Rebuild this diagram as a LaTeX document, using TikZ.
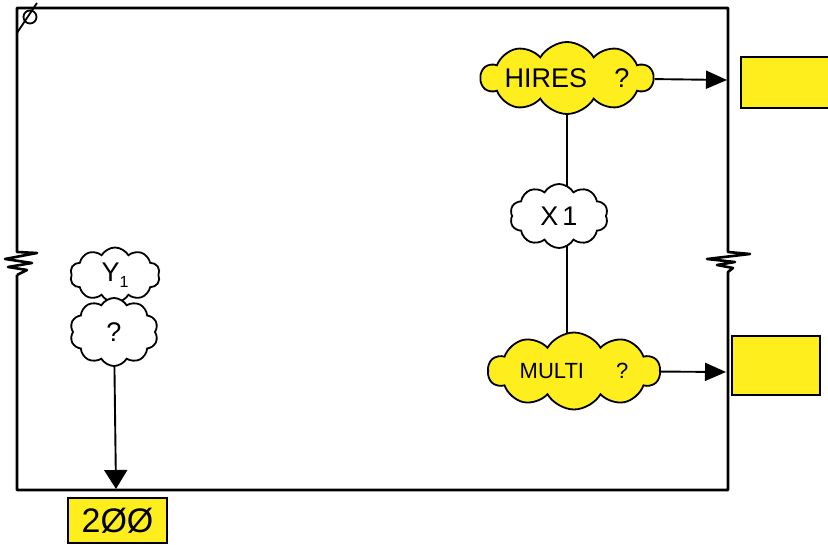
\documentclass[tikz,border=0pt]{standalone}
\usepackage{fontspec}
\setmainfont{Liberation Sans}
\usetikzlibrary{shapes.symbols,arrows.meta,backgrounds}
\definecolor{hy}{RGB}{255,238,30}
\begin{document}
\begin{tikzpicture}[x=1pt,y=-1pt,
  frameline/.style={line width=2.6pt, line join=round},
  conn/.style={line width=1.9pt},
  arr/.style={conn, -{Triangle[length=21pt,width=18pt]}},
  arrdown/.style={conn, -{Triangle[length=19pt,width=23pt]}},
  cloudnode/.style={cloud, cloud puffs=10, cloud puff arc=120, cloud ignores aspect, draw=black, line width=1.8pt, inner sep=0pt, fill=white},
  yelcloud/.style={cloudnode, fill=hy},
  ybox/.style={draw=black, line width=1.8pt, fill=hy, inner sep=0pt},
  big/.style={font=\fontsize{27}{29}\selectfont},
  mid/.style={font=\fontsize{22}{24}\selectfont}
]
\useasboundingbox (0,0) rectangle (828,545);
\clip (0,0) rectangle (828,545);

% frame with zigzags
\draw[frameline] (17,275) -- (17,490) -- (728,490) -- (728,272)
  -- (733,268) -- (717,265) -- (735,262) -- (707,259) -- (750,254) -- (728,252)
  -- (728,8) -- (17,8) -- (17,252)
  -- (37,253) -- (5,259) -- (32,263) -- (8,267) -- (27,270) -- (17,275);
% empty-set mark in the corner
\draw[line width=1.8pt] (30,17) circle (6.5);
\draw[line width=1.8pt] (17,33) -- (37,3);

% right column clouds
\node[yelcloud, big, minimum width=170pt, minimum height=72pt] (hires) at (567,78) {HIRES\hspace{27pt}?};
\node[cloudnode, big, minimum width=98pt, minimum height=64pt] (x1) at (559,216) {X\kern4pt 1};
\node[yelcloud, mid, minimum width=172pt, minimum height=77pt] (multi) at (574,371) {MULTI\hspace{32pt}?};

% right boxes
\node[ybox, minimum width=95pt, minimum height=51pt, anchor=north west] (hbox) at (740,56) {};
\node[ybox, minimum width=88pt, minimum height=59pt, anchor=north west] (mbox) at (731,335) {};

% left clouds
\node[cloudnode, big, minimum width=90pt, minimum height=55pt] (y1) at (115,275) {Y\raisebox{-6pt}{\fontsize{16}{16}\selectfont 1}};
\node[cloudnode, big, minimum width=88pt, minimum height=68pt] (q) at (114,332) {?};

% 200 box
\node[ybox, minimum width=99pt, minimum height=45pt, font=\fontsize{34}{36}\selectfont] (b200) at (117.5,520.5) {2ØØ};

% arrow end points on the frame
\coordinate (ht) at (727,80);
\coordinate (mt) at (726,372);
\coordinate (dt) at (116,489);

\begin{scope}[on background layer]
  \draw[conn] (hires.center) -- (hires.center |- multi.center);
\end{scope}
\draw[arr] (hires) -- (ht);
\draw[arr] (multi) -- (mt);
\draw[arrdown] (q) -- (dt);
\end{tikzpicture}
\end{document}
